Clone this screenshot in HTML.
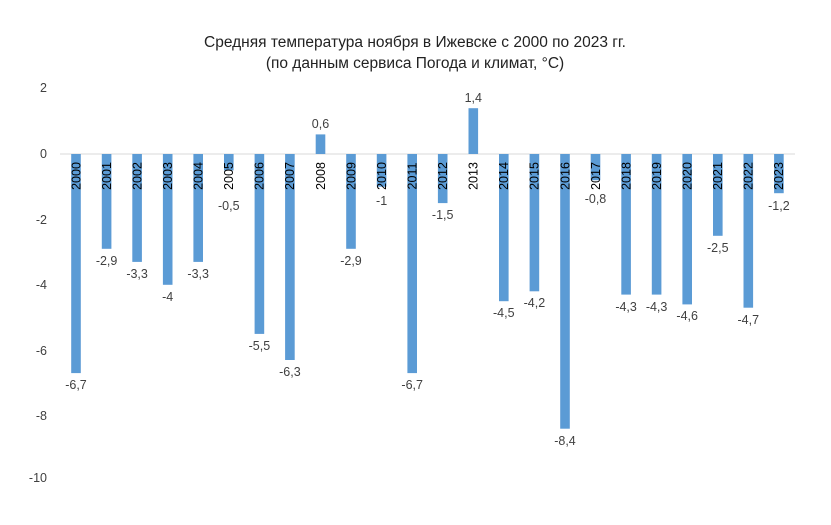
<!DOCTYPE html>
<html><head><meta charset="utf-8"><style>body{margin:0;background:#fff}</style></head><body>
<svg width="831" height="520" xmlns="http://www.w3.org/2000/svg" font-family="Liberation Sans, DejaVu Sans, sans-serif">
<rect width="831" height="520" fill="#fff"/>
<text x="415" y="47" text-anchor="middle" font-size="15.5" fill="#222">Средняя температура ноября в Ижевске с 2000 по 2023 гг.</text>
<text x="415" y="68" text-anchor="middle" font-size="15.5" fill="#222">(по данным сервиса Погода и климат, °С)</text>
<g font-size="12.5" fill="#404040" text-anchor="end">
<text x="47" y="92">2</text><text x="47" y="158">0</text><text x="47" y="224">-2</text><text x="47" y="289">-4</text><text x="47" y="355">-6</text><text x="47" y="420">-8</text><text x="47" y="482">-10</text>
</g>
<line x1="60" y1="154" x2="795" y2="154" stroke="#d9d9d9" stroke-width="1"/>
<g fill="#5b9bd5">
<rect x="71.2" y="154" width="9.6" height="219.1"/>
<rect x="101.8" y="154" width="9.6" height="94.8"/>
<rect x="132.3" y="154" width="9.6" height="107.9"/>
<rect x="162.9" y="154" width="9.6" height="130.8"/>
<rect x="193.4" y="154" width="9.6" height="107.9"/>
<rect x="224.0" y="154" width="9.6" height="16.4"/>
<rect x="254.6" y="154" width="9.6" height="179.9"/>
<rect x="285.1" y="154" width="9.6" height="206.0"/>
<rect x="315.7" y="134.4" width="9.6" height="19.6"/>
<rect x="346.2" y="154" width="9.6" height="94.8"/>
<rect x="376.8" y="154" width="9.6" height="32.7"/>
<rect x="407.4" y="154" width="9.6" height="219.1"/>
<rect x="437.9" y="154" width="9.6" height="49.1"/>
<rect x="468.5" y="108.2" width="9.6" height="45.8"/>
<rect x="499.0" y="154" width="9.6" height="147.2"/>
<rect x="529.6" y="154" width="9.6" height="137.3"/>
<rect x="560.2" y="154" width="9.6" height="274.7"/>
<rect x="590.7" y="154" width="9.6" height="26.2"/>
<rect x="621.3" y="154" width="9.6" height="140.6"/>
<rect x="651.8" y="154" width="9.6" height="140.6"/>
<rect x="682.4" y="154" width="9.6" height="150.4"/>
<rect x="713.0" y="154" width="9.6" height="81.8"/>
<rect x="743.5" y="154" width="9.6" height="153.7"/>
<rect x="774.1" y="154" width="9.6" height="39.2"/>
</g>
<g font-size="12.5" fill="#404040" text-anchor="middle">
<text x="76" y="389">-6,7</text>
<text x="106.6" y="265">-2,9</text>
<text x="137.1" y="278">-3,3</text>
<text x="167.7" y="301">-4</text>
<text x="198.2" y="278">-3,3</text>
<text x="228.8" y="210">-0,5</text>
<text x="259.4" y="350">-5,5</text>
<text x="289.9" y="376">-6,3</text>
<text x="320.5" y="128">0,6</text>
<text x="351" y="265">-2,9</text>
<text x="381.6" y="205">-1</text>
<text x="412.2" y="389">-6,7</text>
<text x="442.7" y="219">-1,5</text>
<text x="473.3" y="102">1,4</text>
<text x="503.8" y="317">-4,5</text>
<text x="534.4" y="307">-4,2</text>
<text x="565" y="445">-8,4</text>
<text x="595.5" y="203">-0,8</text>
<text x="626.1" y="311">-4,3</text>
<text x="656.6" y="311">-4,3</text>
<text x="687.2" y="320">-4,6</text>
<text x="717.8" y="252">-2,5</text>
<text x="748.3" y="324">-4,7</text>
<text x="778.9" y="210">-1,2</text>
</g>
<g font-size="12.5" fill="#000" text-anchor="middle">
<text transform="translate(80.3,176) rotate(-90)">2000</text>
<text transform="translate(110.9,176) rotate(-90)">2001</text>
<text transform="translate(141.4,176) rotate(-90)">2002</text>
<text transform="translate(172,176) rotate(-90)">2003</text>
<text transform="translate(202.5,176) rotate(-90)">2004</text>
<text transform="translate(233.1,176) rotate(-90)">2005</text>
<text transform="translate(263.7,176) rotate(-90)">2006</text>
<text transform="translate(294.2,176) rotate(-90)">2007</text>
<text transform="translate(324.8,176) rotate(-90)">2008</text>
<text transform="translate(355.3,176) rotate(-90)">2009</text>
<text transform="translate(385.9,176) rotate(-90)">2010</text>
<text transform="translate(416.5,176) rotate(-90)">2011</text>
<text transform="translate(447,176) rotate(-90)">2012</text>
<text transform="translate(477.6,176) rotate(-90)">2013</text>
<text transform="translate(508.1,176) rotate(-90)">2014</text>
<text transform="translate(538.7,176) rotate(-90)">2015</text>
<text transform="translate(569.3,176) rotate(-90)">2016</text>
<text transform="translate(599.8,176) rotate(-90)">2017</text>
<text transform="translate(630.4,176) rotate(-90)">2018</text>
<text transform="translate(660.9,176) rotate(-90)">2019</text>
<text transform="translate(691.5,176) rotate(-90)">2020</text>
<text transform="translate(722.1,176) rotate(-90)">2021</text>
<text transform="translate(752.6,176) rotate(-90)">2022</text>
<text transform="translate(783.2,176) rotate(-90)">2023</text>
</g>
</svg>
</body></html>
